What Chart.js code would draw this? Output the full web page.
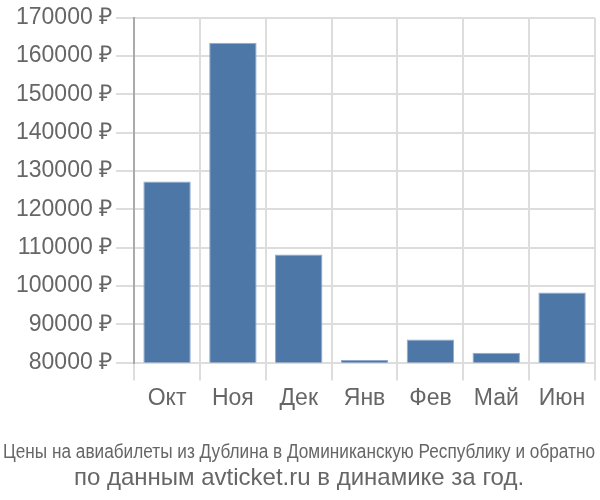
<!DOCTYPE html>
<html>
<head>
<meta charset="utf-8">
<script src="https://cdn.jsdelivr.net/npm/chart.js@4"></script>
<style>
  html, body { margin: 0; padding: 0; background: #fff; }
  #wrap { width: 600px; height: 500px; }
</style>
</head>
<body>
<div id="wrap"><canvas id="chart_prices"></canvas></div>
<script>
const labels = ["Окт", "Ноя", "Дек", "Янв", "Фев", "Май", "Июн"];
const prices = [127300, 163500, 108200, 80700, 86000, 82600, 98300];
const yTicks = [80000, 90000, 100000, 110000, 120000, 130000, 140000, 150000, 160000, 170000];
const titleLine1 = "Цены на авиабилеты из Дублина в Доминиканскую Республику и обратно";
const titleLine2 = "по данным avticket.ru в динамике за год.";

const data = {
    labels: labels,
    datasets: [
        {
            data: prices,
            backgroundColor: "#4d77a6",
            borderColor: "#8eaad0",
            borderWidth: 1,
            categoryPercentage: 0.72,
            barPercentage: 1,
        },
    ],
};

const config = {
    type: "bar",
    data: data,
    options: {
        responsive: true,
        maintainAspectRatio: false,
        animation: false,
        layout: { padding: { top: 0, right: 5, left: 3, bottom: 0 } },
        plugins: {
            legend: { display: false },
            tooltip: { enabled: false },
            // subtitle sits above the title when both are at the bottom;
            // the long line gets squeezed to the box width by Chart.js
            subtitle: {
                display: true,
                position: "bottom",
                text: titleLine1,
                color: "#666",
                font: { family: "'Liberation Sans', Arial, sans-serif", size: 20, weight: "normal" },
                padding: { top: 24, bottom: 0 },
            },
            title: {
                display: true,
                position: "bottom",
                text: titleLine2,
                color: "#666",
                font: { family: "'Liberation Sans', Arial, sans-serif", size: 24, weight: "normal" },
                padding: { top: 0, bottom: 7 },
            },
        },
        scales: {
            x: {
                grid: { color: "#ddd", lineWidth: 2, tickLength: 18, offset: true },
                border: { display: false },
                ticks: {
                    color: "#666",
                    font: { family: "'Liberation Sans', Arial, sans-serif", size: 23 },
                    padding: 4,
                },
            },
            y: {
                min: 80000,
                max: 170000,
                afterBuildTicks: (axis) => { axis.ticks = yTicks.map((v) => ({ value: v })); },
                afterFit: (axis) => { axis.width += 9; },
                grid: { color: "#ddd", lineWidth: 2, tickLength: 18 },
                border: { color: "#aaa", width: 2 },
                ticks: {
                    color: "#666",
                    font: { family: "'Liberation Sans', Arial, sans-serif", size: 23 },
                    padding: 4,
                    callback: (v) => v + " ₽",
                },
            },
        },
    },
};

const ctx = document.getElementById("chart_prices");
const priceChart = new Chart(ctx, config);
</script>
</body>
</html>
